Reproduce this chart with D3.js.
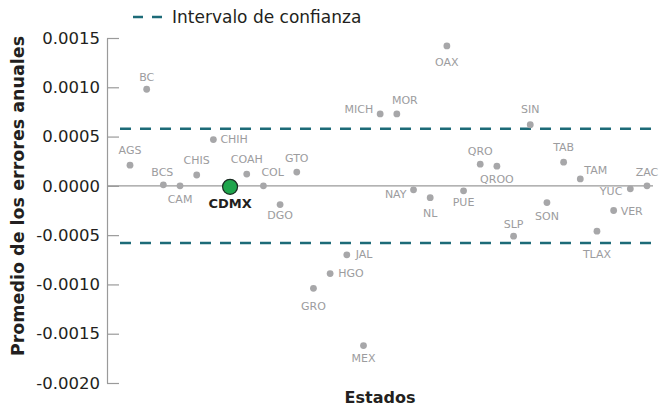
<!DOCTYPE html>
<html>
<head>
<meta charset="utf-8">
<script src="https://d3js.org/d3.v7.min.js"></script>
<style>
  body { margin: 0; background: #fff; }
  svg text { font-family: "DejaVu Sans", sans-serif; }
</style>
</head>
<body>
<svg id="chart" width="663" height="407"></svg>
<script>
// Estados en el orden del eje x
const estados = ["AGS", "BC", "BCS", "CAM", "CHIS", "CHIH", "CDMX", "COAH", "COL", "DGO",
  "GTO", "GRO", "HGO", "JAL", "MEX", "MICH", "MOR", "NAY", "NL", "OAX", "PUE", "QRO",
  "QROO", "SLP", "SIN", "SON", "TAB", "TAM", "TLAX", "VER", "YUC", "ZAC"];

// Promedio de los errores anuales
const promedios = [0.00021, 0.00098, 0.00001, 0.0, 0.00011, 0.00047, -0.00001, 0.00012, 0.0, -0.00019,
  0.00014, -0.00104, -0.00089, -0.0007, -0.00162, 0.00073, 0.00073, -0.00004, -0.00012, 0.00142, -0.00005, 0.00022,
  0.0002, -0.00051, 0.00062, -0.00017, 0.00024, 0.00007, -0.00046, -0.00025, -0.00003, 0.0];

const intervalo = [-0.00058, 0.00058];
const yTicks = [0.0015, 0.001, 0.0005, 0, -0.0005, -0.001, -0.0015, -0.002];
const destacado = "CDMX";

// where each label sits relative to its dot: [dx, dy, anchor]
const labelPos = {
  AGS: [0, -15, "middle"], BC: [0, -12, "middle"], BCS: [-1, -12, "middle"],
  CAM: [0, 14, "middle"], CHIS: [0, -15, "middle"], CHIH: [7, 0, "start"],
  CDMX: [0, 17, "middle"], COAH: [0, -15, "middle"], COL: [-2, -13, "start"],
  DGO: [0, 11, "middle"], GTO: [0, -14, "middle"], GRO: [0, 18, "middle"],
  HGO: [8, 0, "start"], JAL: [9, 0, "start"], MEX: [0, 13, "middle"],
  MICH: [-7, -4, "end"], MOR: [8, -13, "middle"], NAY: [-7, 5, "end"],
  NL: [0, 16, "middle"], OAX: [0, 17, "middle"], PUE: [0, 12, "middle"],
  QRO: [0, -13, "middle"], QROO: [0, 13, "middle"], SLP: [0, -12, "middle"],
  SIN: [0, -15, "middle"], SON: [0, 14, "middle"], TAB: [0, -15, "middle"],
  TAM: [4, -8, "start"], TLAX: [0, 23, "middle"], VER: [7, 1, "start"],
  YUC: [-8, 3, "end"], ZAC: [0, -13, "middle"]
};

const data = estados.map((e, i) => ({ estado: e, valor: promedios[i] }));

const axisX = 107, plotRight = 653;
const teal = "#1d6b78";
const grey = "#a7a7a9";
const dark = "#231f20";

const svg = d3.select("#chart");

const x = d3.scalePoint().domain(estados).range([130, 647]);
const y = d3.scaleLinear().domain([-0.002, 0.0015]).range([383, 38]);

// y axis
const yAxis = svg.append("g")
  .attr("transform", `translate(${axisX},0)`)
  .call(d3.axisLeft(y).tickValues(yTicks).tickFormat(d3.format(".4f"))
    .tickSizeInner(-12).tickSizeOuter(0).tickPadding(7));
yAxis.selectAll("path, line").attr("stroke", "#9a9a9a").attr("stroke-width", 1.2);
yAxis.selectAll("text")
  .text(d => (d < 0 ? "-" : "") + d3.format(".4f")(Math.abs(d)))
  .attr("fill", dark).attr("font-size", 16.5);

// zero line
svg.append("line")
  .attr("x1", axisX).attr("x2", plotRight)
  .attr("y1", y(0)).attr("y2", y(0))
  .attr("stroke", "#9a9a9a").attr("stroke-width", 1.2);

// confidence interval
svg.append("g").selectAll("line")
  .data(intervalo)
  .join("line")
  .attr("x1", axisX + 13).attr("x2", plotRight)
  .attr("y1", d => y(d)).attr("y2", d => y(d))
  .attr("stroke", teal).attr("stroke-width", 2.5)
  .attr("stroke-dasharray", "11,9");

// points
const others = data.filter(d => d.estado !== destacado);
svg.append("g").selectAll("circle")
  .data(others)
  .join("circle")
  .attr("cx", d => x(d.estado))
  .attr("cy", d => y(d.valor))
  .attr("r", 3.4)
  .attr("fill", grey);

const hi = data.filter(d => d.estado === destacado);
svg.append("g").selectAll("circle")
  .data(hi)
  .join("circle")
  .attr("cx", d => x(d.estado))
  .attr("cy", d => y(d.valor))
  .attr("r", 7.5)
  .attr("fill", "#1fa54c")
  .attr("stroke", "#1b2b22")
  .attr("stroke-width", 1.2);

// labels
svg.append("g").selectAll("text")
  .data(data)
  .join("text")
  .attr("x", d => x(d.estado) + labelPos[d.estado][0])
  .attr("y", d => y(d.valor) + labelPos[d.estado][1])
  .attr("text-anchor", d => labelPos[d.estado][2])
  .attr("dominant-baseline", "central")
  .attr("font-size", d => d.estado === destacado ? 13 : 11)
  .attr("font-weight", d => d.estado === destacado ? "bold" : "normal")
  .attr("fill", d => d.estado === destacado ? dark : "#9c9c9e")
  .text(d => d.estado);

// axis titles
svg.append("text")
  .attr("transform", "translate(18,196) rotate(-90)")
  .attr("text-anchor", "middle")
  .attr("dominant-baseline", "central")
  .attr("font-size", 17.5).attr("font-weight", "bold").attr("fill", dark)
  .text("Promedio de los errores anuales");

svg.append("text")
  .attr("x", 380).attr("y", 397)
  .attr("text-anchor", "middle")
  .attr("dominant-baseline", "central")
  .attr("font-size", 16).attr("font-weight", "bold").attr("fill", dark)
  .text("Estados");

// legend
const legend = svg.append("g").attr("transform", "translate(133,17)");
legend.append("line")
  .attr("x1", 0).attr("x2", 30).attr("y1", 0).attr("y2", 0)
  .attr("stroke", teal).attr("stroke-width", 2.5)
  .attr("stroke-dasharray", "10,9");
legend.append("text")
  .attr("x", 39).attr("y", 0)
  .attr("dominant-baseline", "central")
  .attr("font-size", 17).attr("fill", dark)
  .text("Intervalo de confianza");
</script>
</body>
</html>
